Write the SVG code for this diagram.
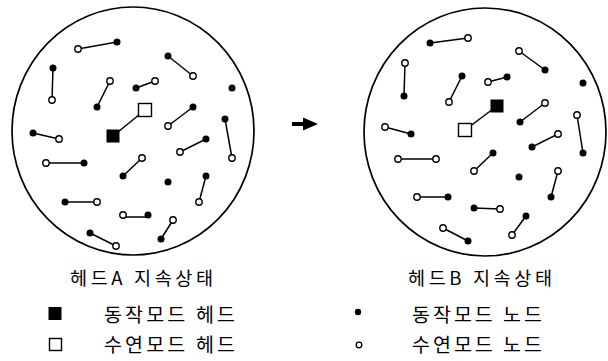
<svg xmlns="http://www.w3.org/2000/svg" width="608" height="361" viewBox="0 0 608 361">
<style>
.bnd{fill:none;stroke:#000;stroke-width:1.7}
.ln{stroke:#000;stroke-width:1.5;fill:none}
.f{fill:#000}
.h{fill:#fff;stroke:#000;stroke-width:1.4}
.fs{fill:#000}
.hs{fill:#fff;stroke:#000;stroke-width:1.4}
text{font-family:"Noto Sans CJK KR","Noto Sans",sans-serif;fill:#000}
.t{font-size:18.5px}
.l{font-size:19.5px}
</style>
<defs>
<circle id="F" r="3.5" class="f"/>
<circle id="H" r="3.2" class="h"/>
</defs>
<g id="boundaryA"><ellipse class="bnd" cx="133" cy="131" rx="121" ry="124"/></g>
<g id="boundaryB"><ellipse class="bnd" cx="485" cy="132" rx="121" ry="124"/></g>
<g id="connectors">
<line class="ln" x1="78" y1="49" x2="117" y2="42"/>
<line class="ln" x1="53" y1="68" x2="52" y2="100"/>
<line class="ln" x1="110" y1="81" x2="97" y2="107"/>
<line class="ln" x1="136" y1="88" x2="155" y2="81"/>
<line class="ln" x1="113" y1="136" x2="145" y2="110"/>
<line class="ln" x1="168" y1="56" x2="193" y2="76"/>
<line class="ln" x1="193" y1="107" x2="168" y2="126"/>
<line class="ln" x1="225" y1="119" x2="232" y2="158"/>
<line class="ln" x1="33" y1="133" x2="59" y2="139"/>
<line class="ln" x1="46" y1="163" x2="84" y2="163"/>
<line class="ln" x1="123" y1="176" x2="142" y2="158"/>
<line class="ln" x1="65" y1="202" x2="97" y2="202"/>
<polyline class="ln" points="123,215 126,217 148,217 148,215"/>
<line class="ln" x1="90" y1="233" x2="116" y2="246"/>
<line class="ln" x1="206" y1="139" x2="180" y2="152"/>
<line class="ln" x1="206" y1="176" x2="199" y2="202"/>
<line class="ln" x1="173" y1="220" x2="161" y2="239"/>
<line class="ln" x1="430" y1="43" x2="468" y2="38"/>
<line class="ln" x1="405" y1="63" x2="404" y2="96"/>
<line class="ln" x1="462" y1="76" x2="449" y2="102"/>
<line class="ln" x1="385" y1="127" x2="411" y2="134"/>
<line class="ln" x1="497" y1="106" x2="465" y2="130"/>
<line class="ln" x1="519" y1="51" x2="545" y2="70"/>
<line class="ln" x1="488" y1="82" x2="507" y2="77"/>
<line class="ln" x1="545" y1="103" x2="520" y2="122"/>
<line class="ln" x1="577" y1="115" x2="583" y2="153"/>
<line class="ln" x1="532" y1="147" x2="558" y2="134"/>
<line class="ln" x1="493" y1="153" x2="474" y2="171"/>
<line class="ln" x1="558" y1="171" x2="551" y2="197"/>
<line class="ln" x1="474" y1="208" x2="500" y2="209"/>
<line class="ln" x1="526" y1="216" x2="512" y2="235"/>
<line class="ln" x1="443" y1="228" x2="468" y2="241"/>
<line class="ln" x1="398" y1="159" x2="436" y2="159"/>
<line class="ln" x1="417" y1="197" x2="448" y2="197"/>
</g>
<g id="nodesA">
<use href="#H" x="78" y="49"/><use href="#F" x="117" y="42"/>
<use href="#F" x="53" y="68"/><use href="#H" x="52" y="100"/>
<use href="#H" x="110" y="81"/><use href="#F" x="97" y="107"/>
<use href="#F" x="136" y="88"/><use href="#H" x="155" y="81"/>
<use href="#F" x="168" y="56"/><use href="#H" x="193" y="76"/>
<use href="#F" x="232" y="88"/>
<use href="#F" x="193" y="107"/><use href="#H" x="168" y="126"/>
<use href="#F" x="225" y="119"/><use href="#H" x="232" y="158"/>
<use href="#F" x="33" y="133"/><use href="#H" x="59" y="139"/>
<use href="#H" x="46" y="163"/><use href="#F" x="84" y="163"/>
<use href="#F" x="123" y="176"/><use href="#H" x="142" y="158"/>
<use href="#F" x="65" y="202"/><use href="#H" x="97" y="202"/>
<use href="#H" x="123" y="215"/><use href="#F" x="148" y="215"/>
<use href="#F" x="90" y="233"/><use href="#H" x="116" y="246"/>
<use href="#F" x="206" y="139"/><use href="#H" x="180" y="152"/>
<use href="#F" x="168" y="182"/>
<use href="#F" x="206" y="176"/><use href="#H" x="199" y="202"/>
<use href="#H" x="173" y="220"/><use href="#F" x="161" y="239"/>
</g>
<g id="headA">
<rect class="fs" x="106.5" y="129.5" width="13" height="13"/>
<rect class="hs" x="138.5" y="103.5" width="13" height="13"/>
</g>
<g id="nodesB">
<use href="#F" x="430" y="43"/><use href="#H" x="468" y="38"/>
<use href="#H" x="405" y="63"/><use href="#F" x="404" y="96"/>
<use href="#F" x="462" y="76"/><use href="#H" x="449" y="102"/>
<use href="#H" x="385" y="127"/><use href="#F" x="411" y="134"/>
<use href="#H" x="519" y="51"/><use href="#F" x="545" y="70"/>
<use href="#H" x="488" y="82"/><use href="#F" x="507" y="77"/>
<use href="#F" x="583" y="83"/>
<use href="#H" x="545" y="103"/><use href="#F" x="520" y="122"/>
<use href="#H" x="577" y="115"/><use href="#F" x="583" y="153"/>
<use href="#F" x="532" y="147"/><use href="#H" x="558" y="134"/>
<use href="#F" x="493" y="153"/><use href="#H" x="474" y="171"/>
<use href="#F" x="519" y="177"/>
<use href="#H" x="558" y="171"/><use href="#F" x="551" y="197"/>
<use href="#F" x="474" y="208"/><use href="#H" x="500" y="209"/>
<use href="#F" x="526" y="216"/><use href="#H" x="512" y="235"/>
<use href="#H" x="443" y="228"/><use href="#F" x="468" y="241"/>
<use href="#H" x="398" y="159"/><use href="#H" x="436" y="159"/>
<use href="#H" x="417" y="197"/><use href="#F" x="448" y="197"/>
</g>
<g id="headB">
<rect class="fs" x="490.5" y="99.5" width="13" height="13"/>
<rect class="hs" x="458.5" y="123.5" width="13" height="13"/>
</g>
<g id="arrow">
<line x1="292" y1="124" x2="305" y2="124" stroke="#000" stroke-width="4"/>
<polygon points="303,117.5 318,124 303,130.5" fill="#000"/>
</g>
<g id="titles">
<text class="t" x="70" y="284.5" textLength="143" lengthAdjust="spacing">헤드A 지속상태</text>
<text class="t" x="408" y="284.5" textLength="144" lengthAdjust="spacing">헤드B 지속상태</text>
</g>
<g id="legend">
<rect x="48.5" y="307" width="13" height="13" fill="#000"/>
<text class="l" x="104" y="322" textLength="131" lengthAdjust="spacing">동작모드 헤드</text>
<rect x="49.5" y="338.5" width="12" height="12" fill="#fff" stroke="#000" stroke-width="1.4"/>
<text class="l" x="104" y="352" textLength="131" lengthAdjust="spacing">수연모드 헤드</text>
<circle cx="358" cy="312" r="3.2" fill="#000"/>
<text class="l" x="412" y="322" textLength="130" lengthAdjust="spacing">동작모드 노드</text>
<circle cx="359" cy="345" r="2.8" fill="#fff" stroke="#000" stroke-width="1.3"/>
<text class="l" x="412" y="352" textLength="130" lengthAdjust="spacing">수연모드 노드</text>
</g>
</svg>
